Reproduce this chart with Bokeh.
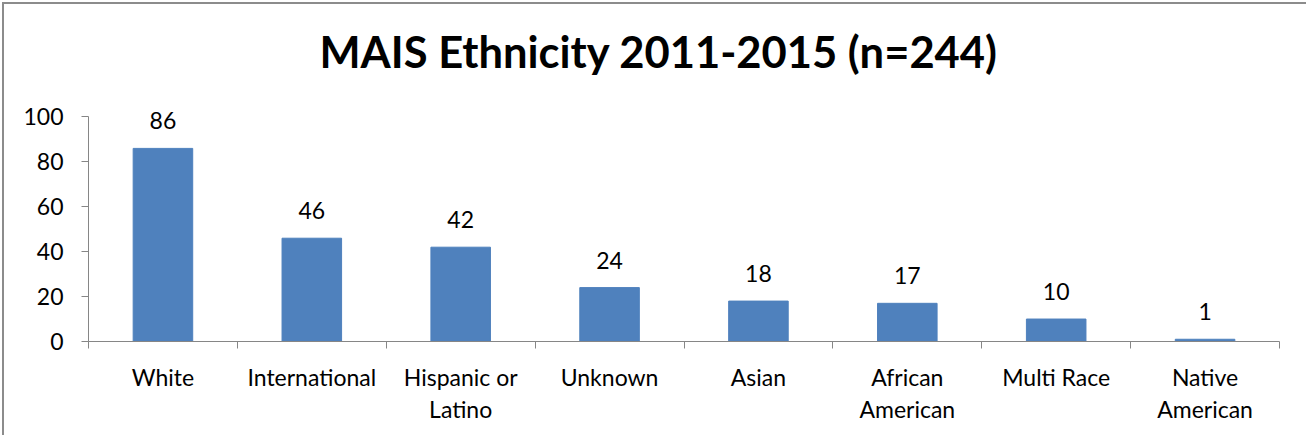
from bokeh.plotting import figure
from bokeh.models import FixedTicker, LinearAxis, Range1d, Title
from bokeh.core.properties import value
from bokeh.embed import file_html
from bokeh.resources import INLINE

categories = ["White", "International", "Hispanic or\nLatino", "Unknown", "Asian",
              "African\nAmerican", "Multi Race", "Native\nAmerican"]
counts = [86, 46, 42, 24, 18, 17, 10, 1]
y_ticks = [0, 20, 40, 60, 80, 100]
title_text = "MAIS Ethnicity 2011-2015 (n=244)"

FONT = "Lato"
GRAY = "#868686"
BAR = "#4F81BD"

n = len(categories)
centers = [i + 0.5 for i in range(n)]

# y range extends above 100 so data labels are not clipped; axis line bounded to 0..100
p = figure(width=1304, height=433, output_backend="svg", toolbar_location=None,
           x_range=Range1d(0, n), y_range=Range1d(0, 110),
           min_border_left=84, min_border_right=29, min_border_top=90, min_border_bottom=96,
           x_axis_type=None, y_axis_type=None)
p.margin = (2, 0, 0, 2)
p.styles = {"border-top": "2px solid #8c8c8c", "border-left": "2px solid #8c8c8c"}
p.outline_line_color = None
p.background_fill_color = "white"
p.border_fill_color = "white"

t = Title(text=title_text, align="left", text_font=FONT, text_font_size="43.5px",
          text_font_style="bold", text_color="black", offset=231, standoff=36)
p.add_layout(t, "above")

p.vbar(x=centers, top=counts, width=0.4, color=BAR)
p.text(x=centers, y=counts, text=[str(c) for c in counts], text_align="center",
       text_baseline="bottom", y_offset=-19, text_font=value(FONT), text_font_size="23px",
       text_color="black")

# y axis
ya = LinearAxis(ticker=FixedTicker(ticks=y_ticks), bounds=(0, 100))
ya.axis_line_color = GRAY
ya.major_tick_line_color = GRAY
ya.major_tick_out = 7
ya.major_tick_in = 0
ya.minor_tick_line_color = None
ya.major_label_standoff = 18
ya.major_label_text_font = FONT
ya.major_label_text_font_size = "23px"
ya.major_label_text_color = "black"
p.add_layout(ya, "left")

# x axis with boundary ticks
bounds = list(range(n + 1))
xa = LinearAxis(ticker=FixedTicker(ticks=bounds))
xa.axis_line_color = GRAY
xa.major_tick_line_color = GRAY
xa.major_tick_out = 7
xa.major_tick_in = 0
xa.minor_tick_line_color = None
xa.major_label_overrides = {b: "" for b in bounds}
xa.major_label_standoff = 0
p.add_layout(xa, "below")

# category labels
xl = LinearAxis(ticker=FixedTicker(ticks=centers))
xl.major_label_overrides = {c: lab for c, lab in zip(centers, categories)}
xl.axis_line_color = None
xl.major_tick_line_color = None
xl.minor_tick_line_color = None
xl.major_label_standoff = 8
xl.major_label_text_font = FONT
xl.major_label_text_font_size = "23px"
xl.major_label_text_color = "black"
xl.major_label_text_line_height = 1.15
p.add_layout(xl, "below")

p.xgrid.visible = False
p.ygrid.ticker = FixedTicker(ticks=y_ticks)
p.ygrid.grid_line_color = GRAY
p.ygrid.grid_line_width = 1

open("out.html", "w").write(file_html(p, INLINE))
